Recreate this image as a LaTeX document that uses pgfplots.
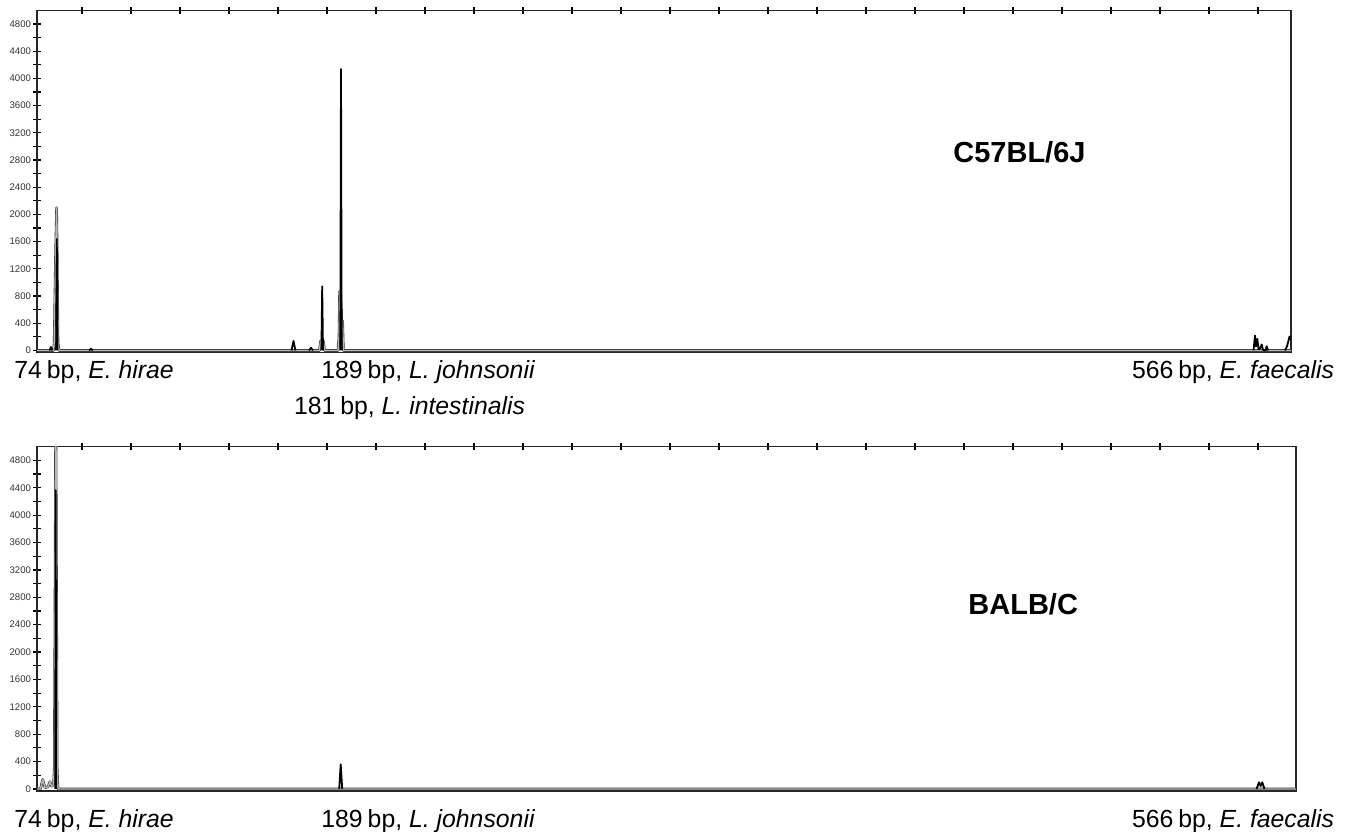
\documentclass[border=0pt]{standalone}
\usepackage{fontspec}
\setmainfont{Liberation Sans}
\usepackage{pgfplots}
\pgfplotsset{compat=1.18}

% fragment-size traces (x in scan units, y in RFU)
\pgfplotsset{
  trace/.style={
    scale only axis, width=627pt, height=171pt,
    xmin=0, xmax=1254, ymin=-30, ymax=5000,
    xtick={45,94,...,1221}, xticklabels={}, xtick pos=right,
    ytick={0,400,...,4800}, ytick pos=left, minor y tick num=1,
    tick align=center, major tick length=3.6pt, minor tick length=3.6pt,
    tick style={black, line width=0.6pt},
    axis line style={black!85, line width=0.7pt},
    /pgf/number format/assume math mode=true,
    /pgf/number format/1000 sep={},
    yticklabel style={font=\fontsize{4.8}{5}\selectfont, text=black!80, inner sep=1pt},
  },
  grey trace/.style={draw=black!80, line width=0.3pt, double=gray!55, double distance=0.7pt, line join=round},
  black trace/.style={black, line width=0.9pt, line join=round},
}

\newcommand{\bp}[2]{{#1}\hspace{0.2em}bp, \textit{#2}}

\begin{document}
\begin{tikzpicture}
\useasboundingbox (0,0) rectangle (675.5pt,-415.5pt);

% ---------- C57BL/6J ----------
\begin{axis}[trace, at={(18.5pt,-176.25pt)}, anchor=south west]
\addplot[grey trace] coordinates {
  (0,0) (16.5,0) (17.2,120) (18.6,1440) (19.6,2100) (20.2,1440) (21,120) (22,0)
  (282.5,0) (283.5,140) (286.5,140) (287.5,0)
  (301,0) (302,200) (302.6,870) (303.6,870) (304.6,440) (305.6,440) (306.4,0)
  (1254,0)};
\addplot[black trace] coordinates {(12.5,0) (14,50) (15.5,0)};
\addplot[black trace] coordinates {(19.1,0) (19.8,1640) (20.5,0)};
\addplot[black trace] coordinates {(52,0) (54,25) (56,0)};
\addplot[black trace] coordinates {(254.5,0) (256.5,140) (258.5,0)};
\addplot[black trace] coordinates {(272,0) (274,40) (276,0)};
\addplot[black trace] coordinates {(284.4,0) (285.2,944) (286,0)};
\addplot[black trace] coordinates {(303.3,0) (304,4140) (304.7,0)};
\addplot[black trace] coordinates {
  (1216.5,0) (1218,220) (1219,60) (1220.3,170) (1221.5,20) (1223,30) (1224.7,88)
  (1226,10) (1228.5,0) (1229.7,63) (1231,0)};
\addplot[black trace] coordinates {(1248,0) (1250,60) (1252.5,205) (1254,150)};
\end{axis}

% ---------- BALB/C ----------
\begin{axis}[trace, width=629.5pt, height=172.15pt, xmax=1259,
  at={(18.5pt,-395.5pt)}, anchor=south west]
\addplot[grey trace] coordinates {
  (0,0) (3.5,0) (5.7,140) (8,20) (11,30) (13,107) (14.5,40) (16.5,60)
  (17.3,290) (18.2,3460) (18.8,6000) (19.4,3460) (20.2,290) (21,0)
  (1259,0)};
\addplot[black trace] coordinates {(18.2,0) (18.7,4365) (19.2,0)};
\addplot[black trace] coordinates {(302.2,0) (303.7,360) (305.2,0)};
\addplot[black trace] coordinates {(1219.5,0) (1222,97) (1223.6,40) (1225.3,97) (1227.5,0)};
\end{axis}

% peak annotations
\begin{scope}[every node/.style={anchor=base west, inner sep=0pt, font=\fontsize{12.4}{14}\selectfont}]
\node at (7pt,-189.3pt)   {\bp{74}{E. hirae}};
\node at (160.5pt,-189.3pt) {\bp{189}{L. johnsonii}};
\node at (146.8pt,-207pt) {\bp{181}{L. intestinalis}};
\node at (565.8pt,-189pt) {\bp{566}{E. faecalis}};
\node at (7pt,-413.5pt)   {\bp{74}{E. hirae}};
\node at (160.5pt,-413.5pt) {\bp{189}{L. johnsonii}};
\node at (565.8pt,-413.5pt) {\bp{566}{E. faecalis}};
\end{scope}
\node[anchor=base west, inner sep=0pt, font=\fontsize{14.5}{16}\selectfont\bfseries] at (476.5pt,-81.2pt) {C57BL/6J};
\node[anchor=base west, inner sep=0pt, font=\fontsize{14.5}{16}\selectfont\bfseries] at (484pt,-307pt) {BALB/C};
\end{tikzpicture}
\end{document}
